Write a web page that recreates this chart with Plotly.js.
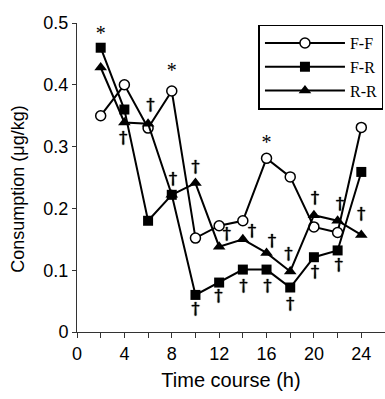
<!DOCTYPE html>
<html>
<head>
<meta charset="utf-8">
<script src="https://cdn.plot.ly/plotly-3.0.1.min.js"></script>
<style>html,body{margin:0;padding:0;background:#fff;}#chart{width:385px;height:399px;}</style>
</head>
<body>
<div id="chart"></div>
<script>
var hours = [2, 4, 6, 8, 10, 12, 14, 16, 18, 20, 22, 24];
var seriesFF = [0.35, 0.40, 0.33, 0.39, 0.152, 0.172, 0.18, 0.281, 0.251, 0.17, 0.161, 0.331];
var seriesFR = [0.46, 0.36, 0.18, 0.222, 0.06, 0.08, 0.101, 0.101, 0.072, 0.121, 0.132, 0.259];
var seriesRR = [0.428, 0.339, 0.337, 0.222, 0.241, 0.138, 0.15, 0.128, 0.098, 0.189, 0.18, 0.157];
var starX = [2, 8, 16];
var starY = [0.48, 0.42, 0.305];
var daggerX = [3.9, 6.2, 8.1, 10, 12.65, 14.77, 16.46, 17.86, 10, 11.95, 14.06, 16.09, 18, 20.1, 22.2, 24, 20.1, 22.1];
var daggerY = [0.313, 0.365, 0.246, 0.265, 0.157, 0.162, 0.146, 0.125, 0.036, 0.057, 0.073, 0.073, 0.044, 0.216, 0.205, 0.189, 0.095, 0.106];
var seriesNames = ['F-F', 'F-R', 'R-R'];
var xTicks = [0, 4, 8, 12, 16, 20, 24];
var yTicks = [0, 0.1, 0.2, 0.3, 0.4, 0.5];
var xTitle = 'Time course (h)';
var yTitle = 'Consumption (μg/kg)';

var lineStyle = {color: '#000', width: 2};
var traces = [
  {x: hours, y: seriesFF, name: seriesNames[0], mode: 'lines+markers', line: lineStyle, cliponaxis: false,
   marker: {symbol: 'circle', size: 10, color: '#fff', line: {color: '#000', width: 1.5}}},
  {x: hours, y: seriesFR, name: seriesNames[1], mode: 'lines+markers', line: lineStyle, cliponaxis: false,
   marker: {symbol: 'square', size: 10, color: '#000', line: {color: '#000', width: 0}}},
  {x: hours, y: seriesRR, name: seriesNames[2], mode: 'lines+markers', line: lineStyle, cliponaxis: false,
   marker: {symbol: 'triangle-up', size: 11, color: '#000', line: {color: '#000', width: 0}}},
  {x: starX, y: starY, mode: 'text', text: starX.map(function(){return '*';}), showlegend: false, cliponaxis: false,
   textfont: {family: 'Liberation Serif', size: 20, color: '#000'}, textposition: 'middle center', hoverinfo: 'skip'},
  {x: daggerX, y: daggerY, mode: 'text', text: daggerX.map(function(){return '†';}), showlegend: false, cliponaxis: false,
   textfont: {family: 'DejaVu Serif', size: 16, color: '#000', shadow: '0px 0px 1px #000, 0px 0px 1px #000'}, textposition: 'middle center', hoverinfo: 'skip'}
];

var layout = {
  width: 385, height: 399,
  margin: {l: 77, r: 0, t: 23, b: 67},
  paper_bgcolor: '#fff', plot_bgcolor: '#fff',
  font: {family: 'Liberation Sans', size: 17, color: '#000'},
  showlegend: true,
  legend: {
    x: 0.995, xanchor: 'right', y: 0.995, yanchor: 'top',
    bordercolor: '#000', borderwidth: 1.5, bgcolor: '#fff',
    font: {family: 'Liberation Serif', size: 16, color: '#000'},
    itemwidth: 80, tracegroupgap: 0
  },
  annotations: [
    {text: yTitle, xref: 'paper', yref: 'paper', x: -0.192, y: 0.463, xanchor: 'center', yanchor: 'middle',
     textangle: -90, showarrow: false, font: {family: 'Liberation Sans', size: 18, color: '#000'}}
  ],
  xaxis: {
    range: [0, 26], tickvals: xTicks, ticktext: xTicks.map(String),
    ticks: 'outside', ticklen: 5, tickwidth: 1, tickcolor: '#333',
    minor: {dtick: 2, tick0: 0, ticks: 'outside', ticklen: 5, tickcolor: '#333', showgrid: false},
    showline: true, linecolor: '#333', linewidth: 1, showgrid: false, zeroline: false,
    tickfont: {family: 'Liberation Sans', size: 18},
    title: {text: xTitle, font: {family: 'Liberation Sans', size: 20}, standoff: 10}
  },
  yaxis: {
    range: [0, 0.5], tickvals: yTicks, ticktext: yTicks.map(String),
    ticks: 'outside', ticklen: 4, tickwidth: 1, tickcolor: '#333',
    showline: true, linecolor: '#333', linewidth: 1, showgrid: false, zeroline: false,
    tickfont: {family: 'Liberation Sans', size: 18}
  }
};

Plotly.newPlot('chart', traces, layout, {staticPlot: true, displayModeBar: false});
</script>
</body>
</html>
